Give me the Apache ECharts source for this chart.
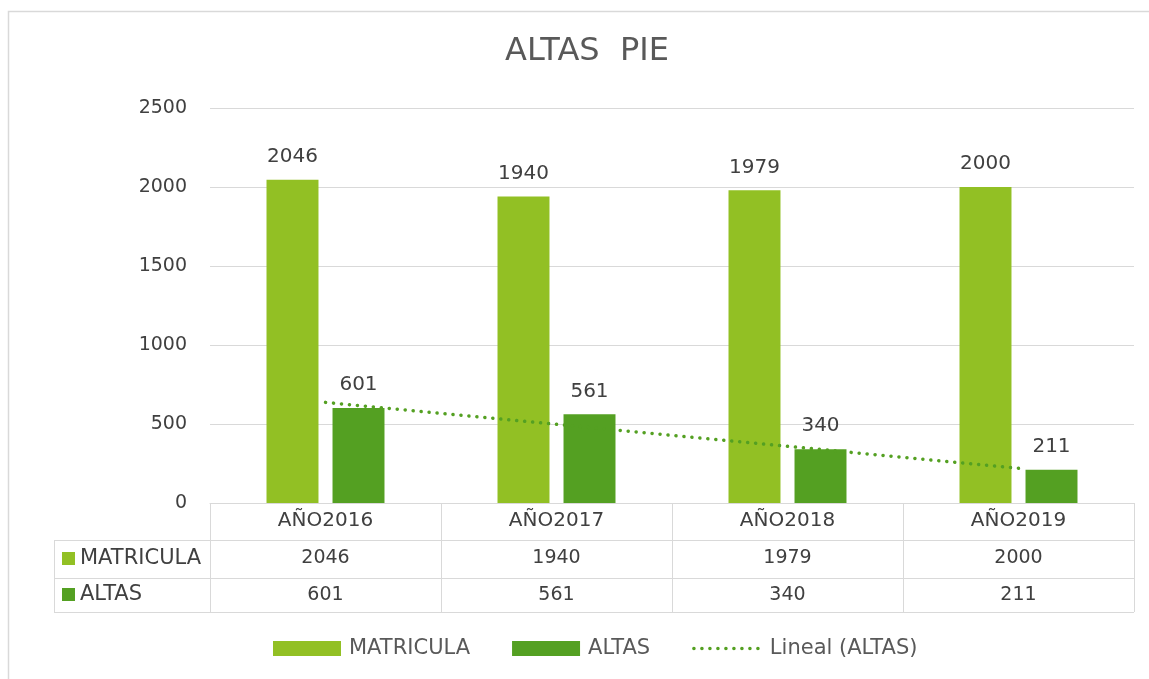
<!DOCTYPE html>
<html>
<head>
<meta charset="utf-8">
<script src="https://cdn.jsdelivr.net/npm/echarts@6/dist/echarts.min.js"></script>
<style>
  html, body { margin: 0; padding: 0; background: #fff; }
  #chart { width: 1149px; height: 679px; }
</style>
</head>
<body>
<div id="chart"></div>
<script>
// datos
const categorias = ['AÑO2016', 'AÑO2017', 'AÑO2018', 'AÑO2019'];
const matricula = [2046, 1940, 1979, 2000];
const altas = [601, 561, 340, 211];
const ticksY = [0, 500, 1000, 1500, 2000, 2500];

const VERDE_CLARO = '#92c024';
const VERDE = '#54a022';
const GRIS_TXT = '#404040';
const GRIS_LINEA = '#d9d9d9';
const FUENTE = 'DejaVu Sans';

// tendencia lineal (minimos cuadrados sobre ALTAS, como hace Excel)
function tendencia(valores) {
    const n = valores.length;
    const xs = valores.map((v, i) => i + 1);
    const mx = xs.reduce((a, b) => a + b, 0) / n;
    const my = valores.reduce((a, b) => a + b, 0) / n;
    let num = 0, den = 0;
    xs.forEach((x, i) => { num += (x - mx) * (valores[i] - my); den += (x - mx) * (x - mx); });
    const m = num / den;
    return xs.map(x => +(my + m * (x - mx)).toFixed(2));
}
const lineal = tendencia(altas);

const punteado = { color: VERDE, width: 3.5, type: [0.1, 7.9], cap: 'round' };

const chart = echarts.init(document.getElementById('chart'));

// ejes x extra: filas de la tabla de datos
function filaTabla(valores, margen) {
    return {
        type: 'category',
        data: categorias,
        position: 'bottom',
        axisLine: { show: false },
        axisTick: { show: false },
        axisLabel: {
            margin: margen,
            fontFamily: FUENTE,
            fontSize: 19,
            color: GRIS_TXT,
            formatter: (v, i) => String(valores[i])
        }
    };
}

const option = {
    animation: false,
    title: {
        text: 'ALTAS  PIE',
        left: 500,
        top: 31,
        textStyle: { fontFamily: FUENTE, fontSize: 32, fontWeight: 'normal', color: '#595959' }
    },
    grid: { left: 210, right: 15, top: 108, bottom: 176 },
    legend: {
        bottom: 15,
        left: 268,
        itemWidth: 68,
        itemHeight: 15,
        itemGap: 42,
        textStyle: { fontFamily: FUENTE, fontSize: 21, color: '#595959', padding: [0, 0, 0, 3] },
        data: [
            { name: 'MATRICULA', icon: 'rect' },
            { name: 'ALTAS', icon: 'rect' },
            { name: 'Lineal (ALTAS)', itemStyle: { opacity: 0 }, lineStyle: punteado }
        ]
    },
    xAxis: [
        {
            type: 'category',
            data: categorias,
            position: 'bottom',
            axisLine: { lineStyle: { color: GRIS_LINEA, width: 1 } },
            axisTick: { show: true, length: 109, lineStyle: { color: GRIS_LINEA } },
            axisLabel: { margin: 8, fontFamily: FUENTE, fontSize: 20, color: GRIS_TXT }
        },
        filaTabla(matricula, 46),
        filaTabla(altas, 83)
    ],
    yAxis: {
        type: 'value',
        min: ticksY[0],
        max: ticksY[ticksY.length - 1],
        interval: 500,
        axisLine: { show: false },
        axisTick: { show: false },
        splitLine: { lineStyle: { color: GRIS_LINEA, width: 1 } },
        axisLabel: { margin: 23, fontFamily: FUENTE, fontSize: 19, color: GRIS_TXT, formatter: v => String(v) }
    },
    series: [
        {
            name: 'MATRICULA',
            type: 'bar',
            data: matricula,
            barWidth: '22.5%',
            barGap: '27%',
            itemStyle: { color: VERDE_CLARO },
            label: { show: true, position: 'top', distance: 13, fontFamily: FUENTE, fontSize: 20, color: GRIS_TXT }
        },
        {
            name: 'ALTAS',
            type: 'bar',
            data: altas,
            barWidth: '22.5%',
            itemStyle: { color: VERDE },
            label: { show: true, position: 'top', distance: 13, fontFamily: FUENTE, fontSize: 20, color: GRIS_TXT }
        },
        {
            name: 'Lineal (ALTAS)',
            type: 'line',
            data: lineal,
            symbol: 'none',
            z: 5,
            lineStyle: punteado,
            itemStyle: { color: VERDE }
        }
    ]
};
chart.setOption(option);

// marco exterior y lineas / rotulos de la tabla de datos
function dibujarTabla() {
    const x0 = chart.convertToPixel({ xAxisIndex: 0 }, 0);
    const paso = chart.convertToPixel({ xAxisIndex: 0 }, 1) - x0;
    const izq = x0 - paso / 2;
    const der = izq + paso * categorias.length;
    const yBase = chart.convertToPixel({ yAxisIndex: 0 }, 0);
    const filas = [yBase + 37, yBase + 75, yBase + 109];
    const colIzq = 54;
    const linea = { stroke: GRIS_LINEA, lineWidth: 1 };

    const elementos = [
        { type: 'rect', shape: { x: 8.5, y: 11.5, width: 1200, height: 700 }, style: { fill: null, stroke: GRIS_LINEA, lineWidth: 1.5 }, silent: true, z: -1 }
    ];
    filas.forEach(y => {
        elementos.push({ type: 'line', shape: { x1: colIzq, y1: y + 0.5, x2: der, y2: y + 0.5 }, style: linea, silent: true });
    });
    elementos.push({ type: 'line', shape: { x1: colIzq + 0.5, y1: filas[0], x2: colIzq + 0.5, y2: filas[2] }, style: linea, silent: true });

    const nombres = [['MATRICULA', VERDE_CLARO], ['ALTAS', VERDE]];
    nombres.forEach((n, k) => {
        const yc = (filas[k] + filas[k + 1]) / 2;
        elementos.push({ type: 'rect', shape: { x: 62, y: yc - 7, width: 13, height: 13 }, style: { fill: n[1] }, silent: true });
        elementos.push({
            type: 'text', x: 80, y: yc,
            style: { text: n[0], fontFamily: FUENTE, fontSize: 21, fill: GRIS_TXT, verticalAlign: 'middle' },
            silent: true
        });
    });
    chart.setOption({ graphic: elementos });
}
dibujarTabla();
</script>
</body>
</html>
